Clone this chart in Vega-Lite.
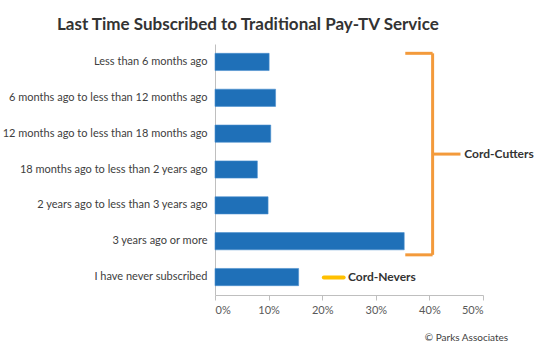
{
  "$schema": "https://vega.github.io/schema/vega-lite/v6.json",
  "width": 268,
  "height": 251,
  "autosize": "none",
  "padding": {"left": 215, "top": 44, "right": 67, "bottom": 64},
  "background": "white",
  "config": {"view": {"stroke": null}, "font": "Lato"},
  "title": {
    "text": "Last Time Subscribed to Traditional Pay-TV Service",
    "anchor": "start",
    "frame": "group",
    "dx": -158,
    "offset": 10,
    "fontSize": 17,
    "font": "Lato",
    "fontWeight": "bold",
    "color": "#333333"
  },
  "datasets": {
    "bars": [
      {"cat": "Less than 6 months ago", "pct": 10.1},
      {"cat": "6 months ago to less than 12 months ago", "pct": 11.3},
      {"cat": "12 months ago to less than 18 months ago", "pct": 10.4},
      {"cat": "18 months ago to less than 2 years ago", "pct": 7.9},
      {"cat": "2 years ago to less than 3 years ago", "pct": 9.9},
      {"cat": "3 years ago or more", "pct": 35.3},
      {"cat": "I have never subscribed", "pct": 15.6}
    ],
    "bracket": [
      {"x": 35.5, "x2": 40.6, "y": 0.26, "y2": 0.26},
      {"x": 35.5, "x2": 40.6, "y": 5.88, "y2": 5.88},
      {"x": 40.6, "x2": 40.6, "y": 0.26, "y2": 5.88},
      {"x": 40.6, "x2": 45.8, "y": 3.07, "y2": 3.07}
    ],
    "nevers": [
      {"x": 20.3, "x2": 24.0, "y": 6.51, "y2": 6.51}
    ],
    "labels": [
      {"x": 46.5, "y": 3.07, "label": "Cord-Cutters"},
      {"x": 24.8, "y": 6.5, "label": "Cord-Nevers"}
    ],
    "footer": [
      {"x": 54.7, "y": 8.21, "label": "© Parks Associates"}
    ]
  },
  "layer": [
    {
      "data": {"name": "bars"},
      "mark": {"type": "bar", "color": "#1f70b8", "stroke": "#4a8fce", "strokeWidth": 0.6},
      "encoding": {
        "y": {
          "field": "cat", "type": "nominal", "sort": null,
          "scale": {"paddingInner": 0.52, "paddingOuter": 0.26},
          "axis": {
            "title": null, "ticks": false, "labelPadding": 8,
            "labelFontSize": 11, "labelColor": "#404040", "labelFont": "Lato",
            "domainColor": "#bfbfbf", "labelLimit": 300
          }
        },
        "x": {
          "field": "pct", "type": "quantitative",
          "scale": {"domain": [0, 50], "nice": false},
          "axis": {
            "title": null, "values": [0, 10, 20, 30, 40, 50],
            "labelExpr": "datum.value + '%'", "grid": false,
            "tickSize": 5, "tickColor": "#bfbfbf", "domainColor": "#bfbfbf",
            "labelFontSize": 11, "labelColor": "#595959", "labelFont": "Lato", "labelPadding": 4
          }
        }
      }
    },
    {
      "data": {"name": "bracket"},
      "mark": {"type": "rule", "color": "#f39a3b", "strokeWidth": 3},
      "encoding": {
        "x": {"field": "x", "type": "quantitative"},
        "x2": {"field": "x2"},
        "y": {"field": "y", "type": "quantitative", "scale": {"domain": [0, 7], "reverse": true, "nice": false}, "axis": null},
        "y2": {"field": "y2"}
      }
    },
    {
      "data": {"name": "nevers"},
      "mark": {"type": "rule", "color": "#ffc000", "strokeWidth": 4, "strokeCap": "round"},
      "encoding": {
        "x": {"field": "x", "type": "quantitative"},
        "x2": {"field": "x2"},
        "y": {"field": "y", "type": "quantitative", "scale": {"domain": [0, 7], "reverse": true, "nice": false}, "axis": null},
        "y2": {"field": "y2"}
      }
    },
    {
      "data": {"name": "labels"},
      "mark": {"type": "text", "align": "left", "baseline": "middle", "fontSize": 12, "fontWeight": "bold", "color": "#333333", "font": "Lato"},
      "encoding": {
        "x": {"field": "x", "type": "quantitative"},
        "y": {"field": "y", "type": "quantitative", "scale": {"domain": [0, 7], "reverse": true, "nice": false}, "axis": null},
        "text": {"field": "label"}
      }
    },
    {
      "data": {"name": "footer"},
      "mark": {"type": "text", "align": "right", "baseline": "middle", "fontSize": 10, "color": "#404040", "font": "Lato", "clip": false},
      "encoding": {
        "x": {"field": "x", "type": "quantitative"},
        "y": {"field": "y", "type": "quantitative", "scale": {"domain": [0, 7], "reverse": true, "nice": false}, "axis": null},
        "text": {"field": "label"}
      }
    }
  ],
  "resolve": {"scale": {"y": "independent"}}
}
